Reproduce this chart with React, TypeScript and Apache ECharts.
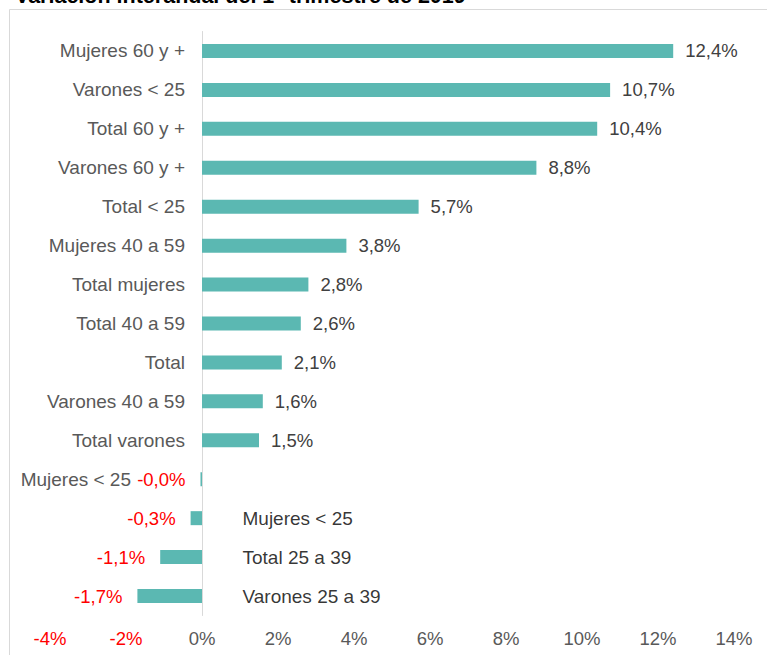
import React, { useEffect, useRef } from "react";
import * as echarts from "echarts";

const categories = [
  "Mujeres 60 y +",
  "Varones < 25",
  "Total 60 y +",
  "Varones 60 y +",
  "Total < 25",
  "Mujeres 40 a 59",
  "Total mujeres",
  "Total 40 a 59",
  "Total",
  "Varones 40 a 59",
  "Total varones",
  "Mujeres < 25",
  "",
  "",
  "",
];
const values = [12.4, 10.74, 10.4, 8.8, 5.7, 3.8, 2.8, 2.6, 2.1, 1.6, 1.5, -0.04, -0.3, -1.1, -1.7];
const insideLabels = [
  { index: 12, text: "Mujeres < 25" },
  { index: 13, text: "Total 25 a 39" },
  { index: 14, text: "Varones 25 a 39" },
];
const xTicks = { min: -4, max: 14, interval: 2 };
const title = "Variación interanual del 1° trimestre de 2019";

const FONT = "'Liberation Sans', Arial, sans-serif";
const BAR = "#5BB8B2";
const fmt = (v: number) => v.toFixed(1).replace(".", ",") + "%";

const GRID_LEFT = 50;
const GRID_RIGHT = 33;
const CHART_W = 767;

export default function App() {
  const ref = useRef<HTMLDivElement>(null);
  useEffect(() => {
    document.body.style.margin = "0";
    const chart = echarts.init(ref.current!, null, { renderer: "svg" });
    const ids = categories.map((_, i) => "c" + i);
    // distance from grid left edge to the zero of the value axis
    const plotW = CHART_W - GRID_LEFT - GRID_RIGHT;
    const zeroOffset = ((0 - xTicks.min) / (xTicks.max - xTicks.min)) * plotW;
    chart.setOption({
      animation: false,
      textStyle: { fontFamily: FONT },
      graphic: [
        {
          type: "rect",
          shape: { x: 9.5, y: 9.5, width: 800, height: 700 },
          style: { fill: "none", stroke: "#d9d9d9", lineWidth: 1 },
          silent: true,
        },
        {
          type: "text",
          x: 15,
          y: 7,
          style: {
            text: title,
            font: `bold 21.5px ${FONT}`,
            fill: "#000",
            verticalAlign: "bottom",
          },
          silent: true,
        },
      ],
      grid: {
        left: GRID_LEFT,
        right: GRID_RIGHT,
        top: 31.5,
        bottom: 39.5,
        containLabel: false,
        outerBoundsMode: "none",
      },
      xAxis: {
        type: "value",
        min: xTicks.min,
        max: xTicks.max,
        interval: xTicks.interval,
        splitLine: { show: false },
        axisLine: { show: false },
        axisTick: { show: false },
        axisLabel: {
          margin: 13,
          fontSize: 18.5,
          fontFamily: FONT,
          formatter: (v: number) => v + "%",
          color: (v: number) => (Number(v) < 0 ? "#FF0000" : "#595959"),
        },
      },
      yAxis: {
        type: "category",
        inverse: true,
        data: ids,
        offset: -zeroOffset,
        axisTick: { show: false },
        axisLine: { show: true, onZero: false, lineStyle: { color: "#d9d9d9", width: 1 } },
        axisLabel: {
          margin: 17,
          fontSize: 19,
          fontFamily: FONT,
          color: "#595959",
          formatter: (v: string) => {
            const i = Number(v.slice(1));
            const t = categories[i];
            if (!t) return "";
            return i === 11 ? `{p|${t}}` : t;
          },
          rich: {
            p: { fontSize: 19, fontFamily: FONT, color: "#595959", padding: [0, 54, 0, 0] },
          },
        },
      },
      series: [
        {
          type: "bar",
          barWidth: 14,
          itemStyle: { color: BAR },
          data: values.map((v) => ({
            value: v,
            label: {
              show: true,
              position: v >= 0 ? "right" : "left",
              distance: v >= 0 ? 12 : 15,
              color: v >= 0 ? "#404040" : "#FF0000",
              fontSize: 18.5,
              fontFamily: FONT,
              formatter: () => fmt(v),
            },
          })),
        },
        {
          type: "scatter",
          symbolSize: 1,
          itemStyle: { color: "rgba(0,0,0,0)" },
          data: insideLabels.map((d) => ({ value: [0, d.index], name: d.text })),
          label: {
            show: true,
            position: "right",
            distance: 40,
            color: "#000",
            fontSize: 19,
            fontFamily: FONT,
            formatter: (p: any) => p.name,
          },
        },
      ],
    });
    return () => chart.dispose();
  }, []);
  return <div ref={ref} style={{ width: 767, height: 655 }} />;
}
